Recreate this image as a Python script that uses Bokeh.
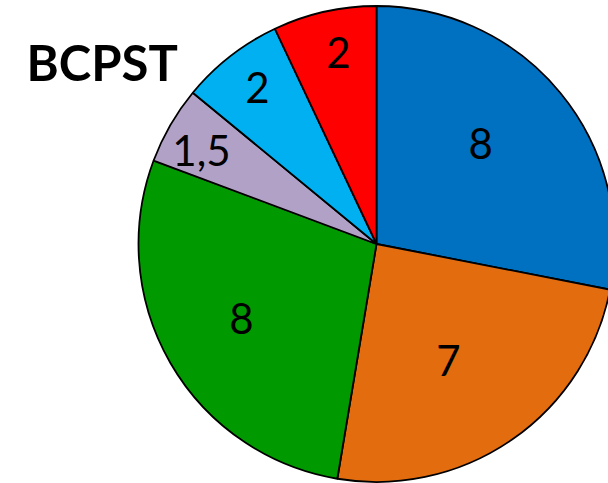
import math
from bokeh.plotting import figure
from bokeh.models import Range1d, ColumnDataSource
from bokeh.core.properties import value
from bokeh.embed import file_html
from bokeh.resources import INLINE

title = "BCPST"
values = [8, 7, 8, 1.5, 2, 2]
labels = ["8", "7", "8", "1,5", "2", "2"]
colors = ["#0070C0", "#E36C0E", "#009900", "#B2A1C7", "#00B0F0", "#FF0000"]
# label placement (style): radius fraction and angular nudge in degrees
label_r = [0.608, 0.575, 0.648, 0.834, 0.826, 0.820]
label_nudge = [4.5, -3.0, -1.1, 1.9, -0.6, -1.4]

W, H = 608, 483
cx, cy, R = 376, 239.5, 238

total = sum(values)
starts, ends, lx, ly = [], [], [], []
cum = 0.0
for v, lr, nd in zip(values, label_r, label_nudge):
    a0 = math.pi / 2 - 2 * math.pi * cum / total
    a1 = math.pi / 2 - 2 * math.pi * (cum + v) / total
    starts.append(a1)
    ends.append(a0)
    mid = (a0 + a1) / 2 + math.radians(nd)
    lx.append(cx + lr * R * math.cos(mid))
    ly.append(cy + lr * R * math.sin(mid))
    cum += v

src = ColumnDataSource(dict(start=starts, end=ends, color=colors,
                            lx=lx, ly=ly, label=labels))

p = figure(width=W, height=H, output_backend="svg", toolbar_location=None,
           x_range=Range1d(0, W), y_range=Range1d(0, H), min_border=0)
p.axis.visible = False
p.grid.visible = False
p.outline_line_color = None
p.background_fill_color = "white"
p.border_fill_color = "white"

p.wedge(x=cx, y=cy, radius=R, start_angle="start", end_angle="end",
        fill_color="color", line_color="black", line_width=1.8, source=src)

p.text(x="lx", y="ly", text="label", source=src, text_align="center",
       text_baseline="middle", text_font=value("Lato"), text_font_size="42px",
       text_color="black")

p.text(x=[26], y=[H - 61], text=[title], text_align="left",
       text_baseline="alphabetic", text_font=value("Lato"),
       text_font_style="bold", text_font_size="49px", text_color="black")

open("out.html", "w").write(file_html(p, INLINE))
